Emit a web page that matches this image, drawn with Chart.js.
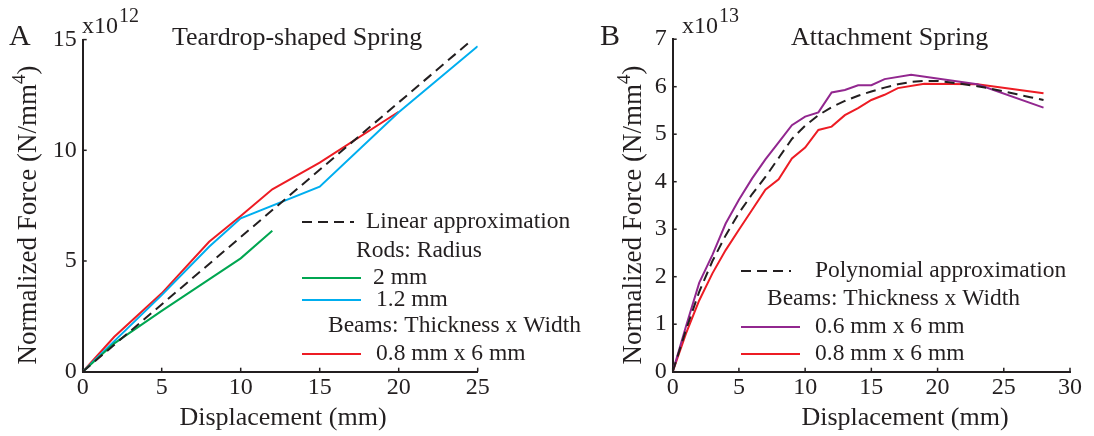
<!DOCTYPE html>
<html>
<head>
<meta charset="utf-8">
<script src="https://cdn.jsdelivr.net/npm/chart.js@4.4.1/dist/chart.umd.min.js"></script>
<style>
  html, body { margin: 0; padding: 0; background: #fff; }
  #wrap { position: relative; width: 1094px; height: 436px; }
  #wrap canvas { position: absolute; left: 0; top: 0; }
</style>
</head>
<body>
<div id="wrap">
  <canvas id="chartA" width="1094" height="436"></canvas>
  <canvas id="chartB" width="1094" height="436"></canvas>
</div>
<script>
// --- panel A : teardrop-shaped spring (force in 1e12 N/mm^4) ---
const linDisp   = [0, 24.5];
const linForce  = [0, 14.9];
const rod2Disp  = [0, 2, 5, 8, 10, 12];
const rod2Force = [0, 1.28, 2.75, 4.17, 5.12, 6.37];
const rod12Disp  = [0, 2, 5, 8, 10, 15, 20, 25];
const rod12Force = [0, 1.38, 3.46, 5.64, 6.93, 8.36, 11.72, 14.7];
const beamADisp  = [0, 2, 5, 8, 10, 12, 15, 20];
const beamAForce = [0, 1.58, 3.54, 5.87, 7.03, 8.24, 9.44, 11.74];
const ticksAX = [0, 5, 10, 15, 20, 25];
const ticksAY = [0, 5, 10, 15];

// --- panel B : attachment spring (force in 1e13 N/mm^4) ---
const polyDisp  = [0,1,2,3,4,5,6,7,8,9,10,11,12,13,14,15,16,17,18,19,20,21,22,23,24,25,26,27,28];
const polyForce = [0,0.88,1.68,2.33,2.87,3.34,3.74,4.1,4.5,4.9,5.18,5.4,5.57,5.7,5.81,5.9,5.98,6.05,6.1,6.12,6.12,6.09,6.05,6.01,5.96,5.9,5.84,5.78,5.72];
const beam06Disp  = [0,1,2,3,4,5,6,7,8,9,10,11,12,13,14,15,16,18,23,28];
const beam06Force = [0,0.95,1.87,2.46,3.12,3.62,4.07,4.47,4.83,5.19,5.37,5.46,5.88,5.93,6.03,6.03,6.16,6.25,6.05,5.56];
const beam08Disp  = [0,1,2,3,4,5,6,7,8,9,10,11,12,13,14,15,16,17,19,23,28];
const beam08Force = [0,0.8,1.5,2.07,2.56,2.99,3.41,3.83,4.05,4.49,4.72,5.09,5.16,5.40,5.55,5.72,5.83,5.97,6.06,6.05,5.86];
const ticksBX = [0, 5, 10, 15, 20, 25, 30];
const ticksBY = [0, 1, 2, 3, 4, 5, 6, 7];

const W = 1094, H = 436;
const INK = '#231f20';
const FONT = '"Liberation Serif", "Times New Roman", serif';
const RED = '#ed1c24', BLUE = '#00aeef', GREEN = '#00a651', PURPLE = '#92278f';

function pts(xs, ys){ return xs.map((x, i) => ({ x: x, y: ys[i] })); }
function series(label, xs, ys, color, dash){
  return { label: label, data: pts(xs, ys), borderColor: color, backgroundColor: color,
           borderWidth: 2, borderDash: dash || [], pointRadius: 0, tension: 0, fill: false };
}

// inward ticks, titles, multiplier, axis labels and the grouped legend
function decorPlugin(o){
  return {
    id: 'decor',
    afterDraw(chart){
      const ctx = chart.ctx;
      ctx.save();
      ctx.strokeStyle = INK; ctx.lineWidth = 1.5;
      const xs = chart.scales.x, ys = chart.scales.y;
      xs.ticks.forEach(t => {
        const px = xs.getPixelForValue(t.value);
        ctx.beginPath(); ctx.moveTo(px, xs.top); ctx.lineTo(px, xs.top - 4); ctx.stroke();
      });
      ys.ticks.forEach(t => {
        const py = ys.getPixelForValue(t.value);
        ctx.beginPath(); ctx.moveTo(ys.right, py); ctx.lineTo(ys.right + 4, py); ctx.stroke();
      });

      ctx.fillStyle = INK;
      ctx.textBaseline = 'alphabetic';
      ctx.textAlign = 'left';
      ctx.font = '30px ' + FONT; ctx.fillText(o.letter, o.letterX, 45);
      ctx.font = '26px ' + FONT; ctx.fillText(o.title, o.titleX, 45);
      ctx.font = '24px ' + FONT; ctx.fillText('x10', o.expX, 33);
      const w10 = ctx.measureText('x10').width;
      ctx.font = '20px ' + FONT; ctx.fillText(o.exp, o.expX + w10 + 1, 22);

      // x axis title
      ctx.font = '26px ' + FONT; ctx.textAlign = 'center';
      ctx.fillText('Displacement (mm)', o.xTitleX, 425);

      // y axis title with superscript
      ctx.save();
      ctx.translate(o.yTitleX, 215);
      ctx.rotate(-Math.PI / 2);
      ctx.textAlign = 'left'; ctx.textBaseline = 'middle';
      ctx.font = '27px ' + FONT;
      const a = 'Normalized Force (N/mm', c = ')';
      const wa = ctx.measureText(a).width, wc = ctx.measureText(c).width;
      ctx.font = '19px ' + FONT;
      const wb = ctx.measureText('4').width;
      let x0 = -(wa + wb + wc) / 2;
      ctx.font = '27px ' + FONT; ctx.fillText(a, x0, 0);
      ctx.font = '19px ' + FONT; ctx.fillText('4', x0 + wa, -9);
      ctx.font = '27px ' + FONT; ctx.fillText(c, x0 + wa + wb, 0);
      ctx.restore();

      // legend
      ctx.font = '23.5px ' + FONT; ctx.textAlign = 'left'; ctx.textBaseline = 'middle';
      o.legend.forEach(it => {
        if (it.ds != null){
          const ds = chart.data.datasets[it.ds];
          ctx.save();
          ctx.strokeStyle = ds.borderColor; ctx.lineWidth = ds.borderWidth;
          ctx.setLineDash(ds.borderDash);
          ctx.beginPath(); ctx.moveTo(it.x1, it.y); ctx.lineTo(it.x2, it.y); ctx.stroke();
          ctx.restore();
        }
        ctx.fillStyle = INK;
        ctx.fillText(it.text, it.tx, it.y);
      });
      ctx.restore();
    }
  };
}

function makeChart(id, o){
  const tickFont = { family: FONT, size: 24 };
  return new Chart(document.getElementById(id), {
    type: 'line',
    data: { datasets: o.datasets },
    options: {
      responsive: false, animation: false,
      layout: { padding: { left: 0, top: o.area.t, right: W - o.area.r, bottom: 0 } },
      plugins: { legend: { display: false }, tooltip: { enabled: false } },
      scales: {
        x: {
          type: 'linear', min: 0, max: o.xTicks[o.xTicks.length - 1],
          afterBuildTicks: s => { s.ticks = o.xTicks.map(v => ({ value: v })); },
          ticks: { font: tickFont, color: INK, padding: 2, maxRotation: 0, autoSkip: false },
          grid: { display: false, drawTicks: false },
          border: { color: INK, width: 2 },
          afterFit: s => { s.height = H - o.area.b; }
        },
        y: {
          type: 'linear', min: 0, max: o.yTicks[o.yTicks.length - 1],
          afterBuildTicks: s => { s.ticks = o.yTicks.map(v => ({ value: v })); },
          ticks: { font: tickFont, color: INK, padding: 6, autoSkip: false },
          grid: { display: false, drawTicks: false },
          border: { color: INK, width: 2 },
          afterFit: s => { s.width = o.area.l; }
        }
      }
    },
    plugins: [decorPlugin(o)]
  });
}

makeChart('chartA', {
  area: { l: 82.7, r: 477.7, t: 39.6, b: 371.7 },
  xTicks: ticksAX, yTicks: ticksAY,
  letter: 'A', letterX: 9, title: 'Teardrop-shaped Spring', titleX: 172,
  expX: 82, exp: '12', xTitleX: 283, yTitleX: 29,
  datasets: [
    series('Linear approximation', linDisp, linForce, INK, [10, 6]),
    series('2 mm', rod2Disp, rod2Force, GREEN),
    series('1.2 mm', rod12Disp, rod12Force, BLUE),
    series('0.8 mm x 6 mm', beamADisp, beamAForce, RED)
  ],
  legend: [
    { ds: 0, x1: 302, x2: 354, y: 222, tx: 366, text: 'Linear approximation' },
    { tx: 356, y: 251, text: 'Rods: Radius' },
    { ds: 1, x1: 302, x2: 361, y: 278, tx: 373, text: '2 mm' },
    { ds: 2, x1: 302, x2: 361, y: 300, tx: 376, text: '1.2 mm' },
    { tx: 328, y: 326, text: 'Beams: Thickness x Width' },
    { ds: 3, x1: 302, x2: 361, y: 354, tx: 376, text: '0.8 mm x 6 mm' }
  ]
});

makeChart('chartB', {
  area: { l: 672.7, r: 1070, t: 39.2, b: 371.7 },
  xTicks: ticksBX, yTicks: ticksBY,
  letter: 'B', letterX: 600, title: 'Attachment Spring', titleX: 791,
  expX: 682, exp: '13', xTitleX: 905, yTitleX: 634,
  datasets: [
    series('Polynomial approximation', polyDisp, polyForce, INK, [10, 6]),
    series('0.6 mm x 6 mm', beam06Disp, beam06Force, PURPLE),
    series('0.8 mm x 6 mm', beam08Disp, beam08Force, RED)
  ],
  legend: [
    { ds: 0, x1: 741, x2: 791, y: 271, tx: 815, text: 'Polynomial approximation' },
    { tx: 767, y: 299, text: 'Beams: Thickness x Width' },
    { ds: 1, x1: 741, x2: 800, y: 327, tx: 815, text: '0.6 mm x 6 mm' },
    { ds: 2, x1: 741, x2: 800, y: 354, tx: 815, text: '0.8 mm x 6 mm' }
  ]
});
</script>
</body>
</html>
